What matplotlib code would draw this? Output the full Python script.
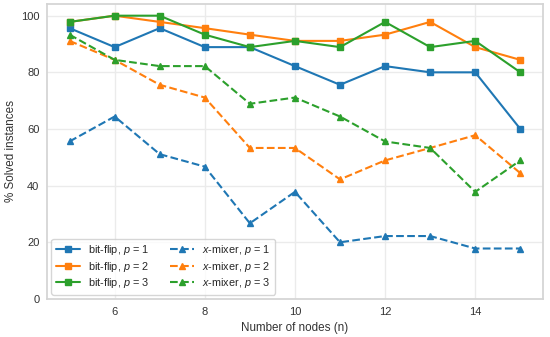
import matplotlib
matplotlib.use("Agg")
import matplotlib.pyplot as plt
import seaborn as sns

# number of nodes
nodes = [5, 6, 7, 8, 9, 10, 11, 12, 13, 14, 15]

# % solved instances, bit-flip mixer
bitflip_p1 = [95.6, 88.9, 95.6, 88.9, 88.9, 82.2, 75.6, 82.2, 80.0, 80.0, 60.0]
bitflip_p2 = [97.8, 100.0, 97.8, 95.6, 93.3, 91.1, 91.1, 93.3, 97.8, 88.9, 84.4]
bitflip_p3 = [97.8, 100.0, 100.0, 93.3, 88.9, 91.1, 88.9, 97.8, 88.9, 91.1, 80.0]

# % solved instances, x-mixer
xmixer_p1 = [55.6, 64.4, 51.1, 46.7, 26.7, 37.8, 20.0, 22.2, 22.2, 17.8, 17.8]
xmixer_p2 = [91.1, 84.4, 75.6, 71.1, 53.3, 53.3, 42.2, 48.9, 53.3, 57.8, 44.4]
xmixer_p3 = [93.3, 84.4, 82.2, 82.2, 68.9, 71.1, 64.4, 55.6, 53.3, 37.8, 48.9]

sns.set_theme(style="whitegrid", rc={"grid.color": "#ebebeb",
                                     "axes.edgecolor": "#d4d4d4"})
plt.rcParams['font.family'] = ['Liberation Sans', 'DejaVu Sans']
plt.rcParams['mathtext.fontset'] = 'custom'
plt.rcParams['mathtext.it'] = 'Liberation Sans:italic'
plt.rcParams['mathtext.rm'] = 'Liberation Sans'

colors = ['tab:blue', 'tab:orange', 'tab:green']

fig, ax = plt.subplots(figsize=(5.5, 3.37), dpi=100)

bitflip = [bitflip_p1, bitflip_p2, bitflip_p3]
xmixer = [xmixer_p1, xmixer_p2, xmixer_p3]

for i, vals in enumerate(bitflip):
    ax.plot(nodes, vals, '-s', color=colors[i], lw=1.5, ms=4,
            label=f"bit-flip, $p$ = {i + 1}")
for i, vals in enumerate(xmixer):
    ax.plot(nodes, vals, '--^', color=colors[i], lw=1.5, ms=4,
            label=f"$x$-mixer, $p$ = {i + 1}")

ax.set_ylim(bottom=0)
ax.set_xticks([6, 8, 10, 12, 14])
ax.set_yticks([0, 20, 40, 60, 80, 100])
ax.tick_params(labelsize=8, length=0, pad=5.5, labelcolor='#333333')
ax.set_xlabel("Number of nodes (n)", fontsize=8.4, labelpad=4, color='#333333')
ax.set_ylabel("% Solved instances", fontsize=8.4, labelpad=3, color='#333333')
ax.legend(loc="lower left", ncol=2, fontsize=7.8, columnspacing=1.9,
          handlelength=2.2, borderaxespad=0.4, labelspacing=0.25)

plt.subplots_adjust(left=0.0855, right=0.987, top=0.988, bottom=0.113)
fig.savefig("out.png")
